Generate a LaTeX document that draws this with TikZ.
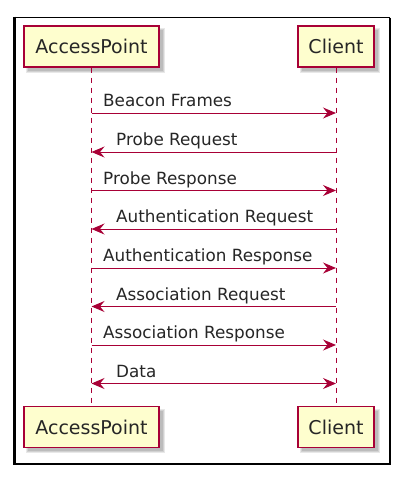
\documentclass[tikz,border=0pt]{standalone}
\usepackage{fontspec}
\setmainfont{DejaVu Sans}
\usetikzlibrary{arrows.meta}
\definecolor{pred}{HTML}{A80036}
\definecolor{pfill}{HTML}{FEFECE}
\tikzset{
  participant/.style={draw=pred, fill=pfill, line width=1.4pt, minimum height=41pt,
     inner sep=0pt, font=\fontsize{19}{22}\selectfont, text=black!85},
  lifeline/.style={draw=pred, line width=1pt, dash pattern=on 5pt off 5pt},
  msg/.style={draw=pred, line width=1pt, -{Stealth[length=13pt,width=11pt,inset=4.5pt]}},
  bimsg/.style={draw=pred, line width=1pt, {Stealth[length=13pt,width=11pt,inset=4.5pt]}-{Stealth[length=13pt,width=11pt,inset=4.5pt]}},
  lbl/.style={font=\fontsize{16.8}{20}\selectfont, text=black!85, inner sep=0pt, anchor=base west},
}
\newcommand{\pshadow}[4]{%
  \fill[black!50, opacity=0.18] (#1+2,#2+2) rectangle (#3+6,#4+6);
  \fill[black!50, opacity=0.22] (#1+3,#2+3) rectangle (#3+5,#4+5);
  \fill[black!50, opacity=0.25] (#1+4,#2+4) rectangle (#3+4,#4+4);
}
\begin{document}
\begin{tikzpicture}[x=1pt,y=-1pt]
\useasboundingbox (0,0) rectangle (408,480);
\fill[white] (0,0) rectangle (408,480);
% frame
\draw[black, line width=1.7pt] (14.3,17.5) -- (390.2,17.5);
\draw[black, line width=1.7pt] (390.2,17.5) -- (390.2,464.2);
\draw[black, line width=2.2pt] (13,464.2) -- (391,464.2);
\draw[black, line width=3.3pt] (14.3,16.7) -- (14.3,465.3);
% shadows
\pshadow{24}{26}{159}{67}
\pshadow{298}{26}{374}{67}
\pshadow{24}{407}{159}{447}
\pshadow{298}{407}{374}{447}
% participants
\node[participant, minimum width=135pt] (ap) at (91.5,46.5) {AccessPoint};
\node[participant, minimum width=76pt] (cl) at (336,46.5) {Client};
\node[participant, minimum width=135pt] (apb) at (91.5,427) {AccessPoint};
\node[participant, minimum width=76pt] (clb) at (336,427) {Client};
% lifelines
\draw[lifeline] (ap.south) -- (apb.north);
\draw[lifeline] (cl.south) -- (clb.north);
% message endpoints
\foreach \i/\y in {1/113,2/152,3/190.5,4/229,5/268,6/306.5,7/345,8/383.5}{
  \coordinate (a\i) at (91.5,\y);
  \coordinate (c\i) at (336,\y);
}
\draw[msg] (a1) -- (c1);
\draw[msg] (c2) -- (a2);
\draw[msg] (a3) -- (c3);
\draw[msg] (c4) -- (a4);
\draw[msg] (a5) -- (c5);
\draw[msg] (c6) -- (a6);
\draw[msg] (a7) -- (c7);
\draw[bimsg] (a8) -- (c8);
% labels
\node[lbl] (l1) at ([xshift=11.5pt,yshift=6.5pt]a1) {Beacon Frames};
\node[lbl] (l2) at ([xshift=24.5pt,yshift=6.5pt]a2) {Probe Request};
\node[lbl] (l3) at ([xshift=11.5pt,yshift=6.5pt]a3) {Probe Response};
\node[lbl] (l4) at ([xshift=24.5pt,yshift=6.5pt]a4) {Authentication Request};
\node[lbl] (l5) at ([xshift=11.5pt,yshift=6.5pt]a5) {Authentication Response};
\node[lbl] (l6) at ([xshift=24.5pt,yshift=6.5pt]a6) {Association Request};
\node[lbl] (l7) at ([xshift=11.5pt,yshift=6.5pt]a7) {Association Response};
\node[lbl] (l8) at ([xshift=24.5pt,yshift=6.5pt]a8) {Data};
\end{tikzpicture}
\end{document}
